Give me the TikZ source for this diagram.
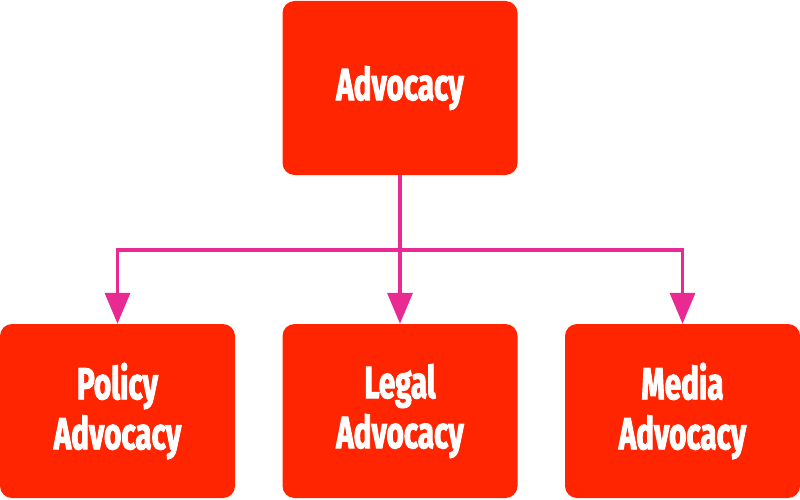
\documentclass[tikz,border=0pt]{standalone}
\usepackage{fontspec}
\newfontfamily\impfont{Fira Sans}[FakeStretch=0.66,FakeBold=2]
\usetikzlibrary{arrows.meta}
\definecolor{boxred}{HTML}{FF2500}
\definecolor{linkmag}{HTML}{E82A92}
\tikzset{
  box/.style={fill=boxred, rounded corners=12pt, minimum width=235pt, minimum height=174pt,
    inner sep=0pt, text=white, align=center, font=\impfont\bfseries\fontsize{45}{50}\selectfont},
  link/.style={draw=linkmag, line width=3.5pt},
  linkarrow/.style={link, -{Triangle[length=31pt,width=25pt]}}
}
\begin{document}
\begin{tikzpicture}[x=1pt,y=-1pt]
\useasboundingbox (0,0) rectangle (800,500);
\node[box] (top) at (400,88) {Advocacy};
\node[box] (policy) at (117.5,411) {Policy\\Advocacy};
\node[box] (legal) at (400,411) {Legal\\Advocacy};
\node[box] (media) at (682.5,411) {Media\\Advocacy};
\coordinate (bus) at (400,250);
\draw[link] (top.south) -- (bus);
\draw[linkarrow] (bus) -| (policy.north);
\draw[linkarrow] (bus) -- (legal.north);
\draw[linkarrow] (bus) -| (media.north);
\end{tikzpicture}
\end{document}
